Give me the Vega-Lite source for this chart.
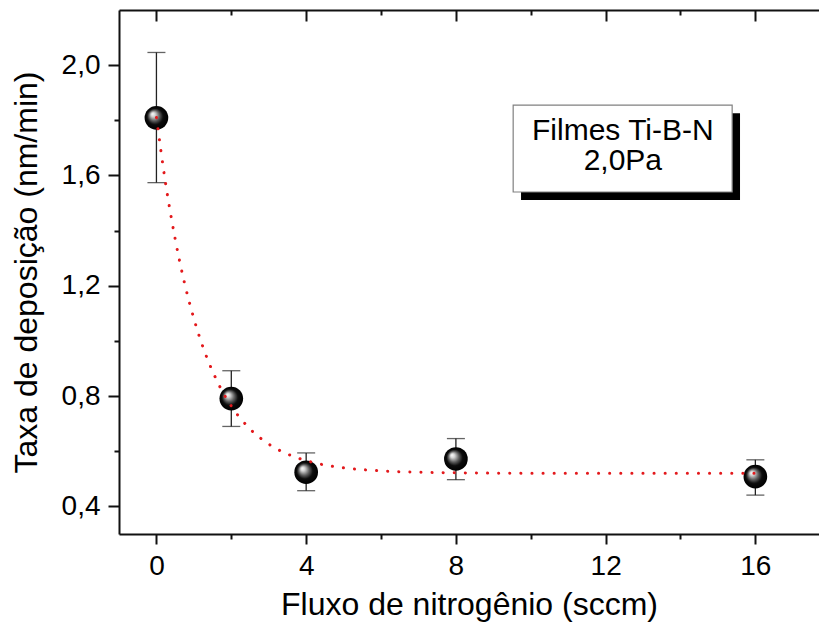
{
  "$schema": "https://vega.github.io/schema/vega-lite/v6.json",
  "autosize": "none",
  "padding": {"left": 119, "top": 10, "right": 0, "bottom": 91},
  "width": 700,
  "height": 524,
  "background": "white",
  "config": {
    "view": {"stroke": null},
    "font": "Liberation Sans",
    "axis": {"domainColor": "#111", "tickColor": "#111", "domainWidth": 2, "tickWidth": 2, "grid": false, "labelColor": "#000", "titleColor": "#000", "labelFont": "Liberation Sans", "titleFont": "Liberation Sans", "titleFontWeight": "normal"}
  },
  "datasets": {
    "pts": [
      {"fluxo": 0, "taxa": 1.809, "lo": 1.574, "hi": 2.046},
      {"fluxo": 2, "taxa": 0.791, "lo": 0.690, "hi": 0.892},
      {"fluxo": 4, "taxa": 0.524, "lo": 0.457, "hi": 0.594},
      {"fluxo": 8, "taxa": 0.572, "lo": 0.497, "hi": 0.646},
      {"fluxo": 16, "taxa": 0.508, "lo": 0.441, "hi": 0.569}
    ],
    "fit": [
      {"fluxo": 0, "taxa": 1.81},
      {"fluxo": 0.25, "taxa": 1.567},
      {"fluxo": 0.5, "taxa": 1.37},
      {"fluxo": 0.75, "taxa": 1.21},
      {"fluxo": 1, "taxa": 1.081},
      {"fluxo": 1.25, "taxa": 0.975},
      {"fluxo": 1.5, "taxa": 0.89},
      {"fluxo": 1.75, "taxa": 0.82},
      {"fluxo": 2, "taxa": 0.764},
      {"fluxo": 2.5, "taxa": 0.681},
      {"fluxo": 3, "taxa": 0.626},
      {"fluxo": 3.5, "taxa": 0.59},
      {"fluxo": 4, "taxa": 0.566},
      {"fluxo": 4.5, "taxa": 0.55},
      {"fluxo": 5, "taxa": 0.54},
      {"fluxo": 6, "taxa": 0.529},
      {"fluxo": 7, "taxa": 0.524},
      {"fluxo": 8, "taxa": 0.522},
      {"fluxo": 10, "taxa": 0.52},
      {"fluxo": 12, "taxa": 0.52},
      {"fluxo": 14, "taxa": 0.52},
      {"fluxo": 16, "taxa": 0.52}
    ],
    "one": [{"label": "legend"}]
  },
  "resolve": {"axis": {"x": "independent", "y": "independent"}},
  "layer": [
    {
      "data": {"name": "pts"},
      "mark": {"type": "rule", "color": "#222", "strokeWidth": 1.3},
      "encoding": {
        "x": {"field": "fluxo", "type": "quantitative", "scale": {"domain": [-1, 17.7], "nice": false, "zero": false},
              "axis": {"orient": "bottom", "values": [2, 6, 10, 14], "tickSize": 5, "labels": false, "domain": false, "title": null}},
        "y": {"field": "lo", "type": "quantitative", "scale": {"domain": [0.3, 2.2], "nice": false, "zero": false},
              "axis": {"orient": "left", "values": [0.6, 1.0, 1.4, 1.8], "tickSize": 5, "labels": false, "domain": false, "title": null}},
        "y2": {"field": "hi"}
      }
    },
    {
      "data": {"name": "pts"},
      "mark": {"type": "tick", "orient": "horizontal", "color": "#222", "size": 18, "thickness": 1.3},
      "encoding": {
        "x": {"field": "fluxo", "type": "quantitative", "scale": {"domain": [-1, 17.7], "nice": false, "zero": false},
              "axis": {"orient": "top", "values": [0, 4, 8, 12, 16], "tickSize": -11, "labels": false, "domain": true, "title": null}},
        "y": {"field": "lo", "type": "quantitative", "scale": {"domain": [0.3, 2.2], "nice": false, "zero": false}, "axis": null}
      }
    },
    {
      "data": {"name": "pts"},
      "mark": {"type": "tick", "orient": "horizontal", "color": "#222", "size": 18, "thickness": 1.3},
      "encoding": {
        "x": {"field": "fluxo", "type": "quantitative", "scale": {"domain": [-1, 17.7], "nice": false, "zero": false},
              "axis": {"orient": "top", "values": [2, 6, 10, 14], "tickSize": -5, "labels": false, "domain": false, "title": null}},
        "y": {"field": "hi", "type": "quantitative", "scale": {"domain": [0.3, 2.2], "nice": false, "zero": false}, "axis": null}
      }
    },
    {
      "data": {"name": "pts"},
      "mark": {"type": "point", "filled": true, "shape": "circle", "size": 560, "opacity": 1, "strokeWidth": 0,
               "fill": {"gradient": "radial", "x1": 0.33, "y1": 0.33, "r1": 0, "x2": 0.5, "y2": 0.5, "r2": 0.5,
                        "stops": [{"offset": 0, "color": "#ffffff"}, {"offset": 0.18, "color": "#d4d4d4"}, {"offset": 0.45, "color": "#5e5e5e"}, {"offset": 0.68, "color": "#0c0c0c"}, {"offset": 1, "color": "#000000"}]}},
      "encoding": {
        "x": {"field": "fluxo", "type": "quantitative", "scale": {"domain": [-1, 17.7], "nice": false, "zero": false}, "axis": null},
        "y": {"field": "taxa", "type": "quantitative", "scale": {"domain": [0.3, 2.2], "nice": false, "zero": false}, "axis": null}
      }
    },
    {
      "data": {"name": "fit"},
      "mark": {"type": "line", "color": "#e3191c", "strokeWidth": 3, "strokeCap": "round", "strokeDash": [0.1, 11], "interpolate": "monotone"},
      "encoding": {
        "x": {"field": "fluxo", "type": "quantitative", "scale": {"domain": [-1, 17.7], "nice": false, "zero": false},
              "axis": {"orient": "bottom", "values": [0, 4, 8, 12, 16], "tickSize": 10, "labelFontSize": 28, "labelPadding": 8,
                       "title": "Fluxo de nitrogênio (sccm)", "titleFontSize": 32, "titlePadding": 9}},
        "y": {"field": "taxa", "type": "quantitative", "scale": {"domain": [0.3, 2.2], "nice": false, "zero": false},
              "axis": {"orient": "left", "values": [0.4, 0.8, 1.2, 1.6, 2.0], "format": ".1f", "formatType": "number", "tickSize": 11, "labelFontSize": 28, "labelPadding": 8,
                       "labelExpr": "replace(datum.label, '.', ',')",
                       "title": "Taxa de deposição (nm/min)", "titleFontSize": 32, "titlePadding": 18}}
      }
    },
    {
      "data": {"name": "one"},
      "mark": {"type": "rect", "color": "#000"},
      "encoding": {
        "x": {"datum": 9.74, "type": "quantitative", "scale": {"domain": [-1, 17.7], "nice": false, "zero": false}, "axis": null},
        "x2": {"datum": 15.59},
        "y": {"datum": 1.826, "type": "quantitative", "scale": {"domain": [0.3, 2.2], "nice": false, "zero": false}, "axis": null},
        "y2": {"datum": 1.511}
      }
    },
    {
      "data": {"name": "one"},
      "mark": {"type": "rect", "fill": "#fff", "stroke": "#808080", "strokeWidth": 1.2},
      "encoding": {
        "x": {"datum": 9.53, "type": "quantitative", "scale": {"domain": [-1, 17.7], "nice": false, "zero": false}, "axis": null},
        "x2": {"datum": 15.38},
        "y": {"datum": 1.855, "type": "quantitative", "scale": {"domain": [0.3, 2.2], "nice": false, "zero": false}, "axis": null},
        "y2": {"datum": 1.54}
      }
    },
    {
      "data": {"name": "one"},
      "mark": {"type": "text", "text": ["Filmes Ti-B-N", "2,0Pa"], "fontSize": 30, "lineHeight": 30, "align": "center", "baseline": "alphabetic", "color": "#000", "font": "Liberation Sans"},
      "encoding": {
        "x": {"datum": 12.46, "type": "quantitative", "scale": {"domain": [-1, 17.7], "nice": false, "zero": false}, "axis": null},
        "y": {"datum": 1.728, "type": "quantitative", "scale": {"domain": [0.3, 2.2], "nice": false, "zero": false}, "axis": null}
      }
    }
  ]
}
